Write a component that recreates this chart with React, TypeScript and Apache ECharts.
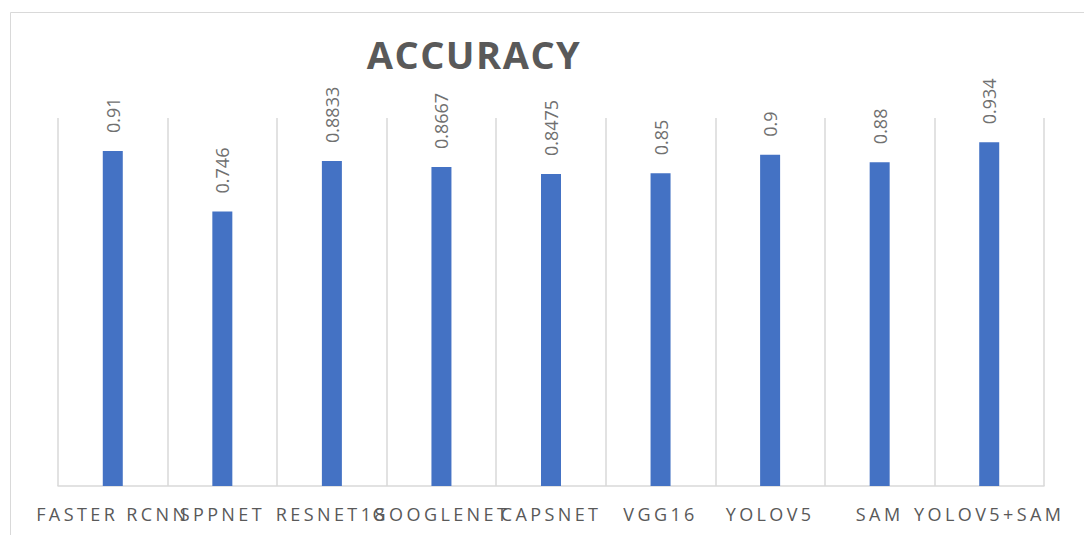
import React, { useEffect, useRef } from "react";
import * as echarts from "echarts";

const categories = ["FASTER RCNN", "SPPNET", "RESNET18", "GOOGLENET", "CAPSNET", "VGG16", "YOLOV5", "SAM", "YOLOV5+SAM"];
const accuracy = [0.91, 0.746, 0.8833, 0.8667, 0.8475, 0.85, 0.9, 0.88, 0.934];
const titleText = "ACCURACY";

export default function App() {
  const ref = useRef<HTMLDivElement>(null);
  useEffect(() => {
    document.body.style.margin = "0";
    const chart = echarts.init(ref.current!, undefined, { renderer: "svg" });
    chart.setOption({
      animation: false,
      backgroundColor: "#ffffff",
      title: {
        text: titleText,
        left: 469,
        top: 49,
        textAlign: "center",
        textVerticalAlign: "middle",
        textStyle: { fontFamily: "Open Sans", fontWeight: "bold", fontSize: 38, color: "#595959" },
      },
      graphic: [
        {
          type: "rect",
          shape: { x: 10.5, y: 12.5, width: 1200, height: 700 },
          style: { fill: "none", stroke: "#d9d9d9", lineWidth: 1 },
          silent: true,
          z: -1,
        },
      ],
      grid: { left: 58, right: 40, top: 118, bottom: 49, containLabel: false },
      xAxis: {
        type: "category",
        data: categories,
        axisLine: { show: true, lineStyle: { color: "#d9d9d9", width: 1.5 } },
        axisTick: { show: false },
        splitLine: { show: true, interval: 0, lineStyle: { color: "#d9d9d9", width: 1.5 } },
        axisLabel: {
          interval: 0,
          margin: 19,
          fontFamily: "Open Sans",
          fontSize: 18,
          color: "#595959",
        },
      },
      yAxis: {
        type: "value",
        min: 0,
        max: 1,
        show: false,
        splitLine: { show: false },
      },
      series: [
        {
          type: "bar",
          data: accuracy,
          barWidth: 20,
          itemStyle: { color: "#4472C4" },
          label: {
            show: true,
            position: "top",
            rotate: 90,
            align: "left",
            verticalAlign: "middle",
            distance: 18,
            fontFamily: "Open Sans",
            fontSize: 18,
            color: "#707070",
          },
        },
      ],
    });
    const spacing = () => {
      const texts = ref.current?.querySelectorAll("text") || [];
      texts.forEach((t) => {
        const s = t.textContent || "";
        if (categories.includes(s)) (t as SVGTextElement).style.letterSpacing = "3.4px";
        if (s === titleText) (t as SVGTextElement).style.letterSpacing = "1.5px";
      });
    };
    spacing();
    chart.on("finished", spacing);
    return () => chart.dispose();
  }, []);
  return <div ref={ref} style={{ position: "absolute", left: 0, top: 0, width: 1084, height: 535 }} />;
}
